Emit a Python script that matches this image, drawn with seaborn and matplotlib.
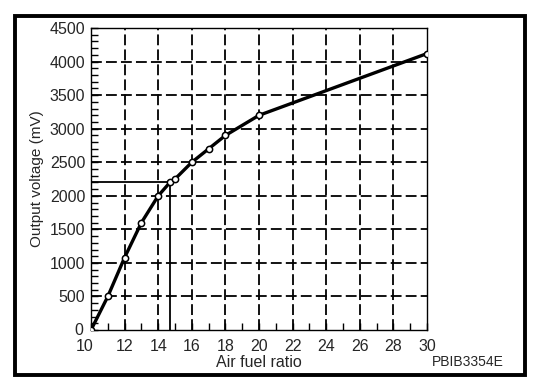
import matplotlib
matplotlib.use("Agg")
import matplotlib.pyplot as plt
import matplotlib.transforms as mtransforms
import seaborn as sns
import pandas as pd
from matplotlib.patches import Rectangle
from matplotlib.ticker import MultipleLocator

sns.set_style("white")
plt.rcParams['font.family'] = ['Liberation Sans', 'DejaVu Sans']

air_fuel_ratio = [10, 11, 12, 13, 14, 14.7, 15, 16, 17, 18, 20, 30]
output_mv = [0, 500, 1080, 1600, 2000, 2200, 2250, 2500, 2700, 2900, 3200, 4120]
ref_x = 14.7
ref_y = 2200
x_ticks = [10, 12, 14, 16, 18, 20, 22, 24, 26, 28, 30]
y_ticks = [0, 500, 1000, 1500, 2000, 2500, 3000, 3500, 4000, 4500]

df = pd.DataFrame({"afr": air_fuel_ratio, "mv": output_mv})

fig = plt.figure(figsize=(5.6, 3.9), dpi=100)
ax = fig.add_axes([0.1625, 0.1538, 0.6, 0.7742])

ax.set_xlim(10, 30)
ax.set_ylim(0, 4500)
ax.set_xticks(x_ticks)
ax.set_yticks(y_ticks)
ax.xaxis.set_minor_locator(MultipleLocator(1))
ax.yaxis.set_minor_locator(MultipleLocator(100))

dash = (0, (6, 2.3))
for xv in x_ticks[1:-1]:
    ax.axvline(xv, color="black", lw=1.3, ls=dash, zorder=1)
for yv in y_ticks[1:-1]:
    ax.axhline(yv, color="black", lw=1.3, ls=dash, zorder=1)

# reference lines
ax.plot([10, ref_x], [ref_y, ref_y], color="black", lw=1.3, zorder=2)
ax.plot([ref_x, ref_x], [0, ref_y], color="black", lw=1.3, zorder=2)

sns.lineplot(data=df, x="afr", y="mv", ax=ax, color="black", lw=2.4,
             marker="o", markersize=4.5, markerfacecolor="white",
             markeredgecolor="black", markeredgewidth=1.1, zorder=3)

ax.tick_params(which="both", direction="in", top=False, right=False,
               bottom=True, left=True, color="black")
ax.tick_params(which="major", length=5, width=1, labelsize=11.5)
ax.tick_params(axis="x", which="major", pad=6.5)
ax.tick_params(axis="y", which="major", pad=4)
ax.tick_params(which="minor", length=5, width=1)
for s in ax.spines.values():
    s.set_color("black")
    s.set_linewidth(1)

ax.set_xlabel("Air fuel ratio", fontsize=11.5, labelpad=1)
ax.set_ylabel("Output voltage (mV)", fontsize=11, labelpad=4)

fig.canvas.draw()
xl = ax.get_xticklabels()
xl[0].set_transform(xl[0].get_transform() +
                    mtransforms.ScaledTranslation(-6 / 100, 0, fig.dpi_scale_trans))
yl = ax.get_yticklabels()
yl[0].set_transform(yl[0].get_transform() +
                    mtransforms.ScaledTranslation(-2 / 100, 1 / 100, fig.dpi_scale_trans))

fig.text(0.835, 0.072, "PBIB3354E", fontsize=10, ha="center", va="center")

fig.patches.append(Rectangle((0.0268, 0.0385), 0.9107, 0.9205,
                             transform=fig.transFigure, fill=False,
                             edgecolor="black", linewidth=2.8))

fig.savefig("out.png", dpi=100)
